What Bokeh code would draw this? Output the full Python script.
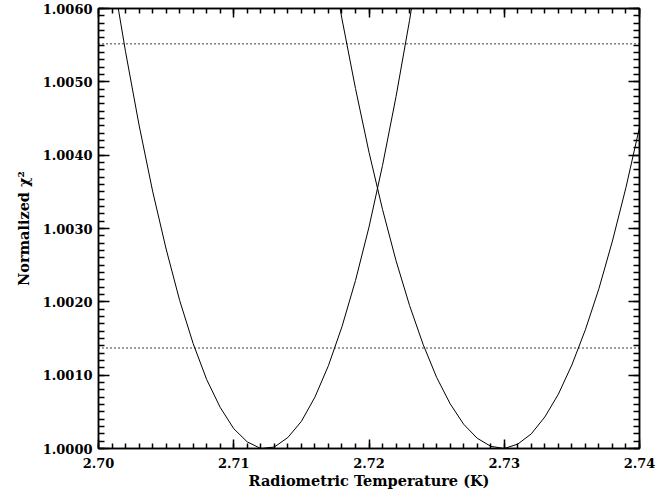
from bokeh.plotting import figure
from bokeh.models import (Range1d, LinearAxis, SingleIntervalTicker, NumeralTickFormatter,
                          CustomJSTickFormatter, Span)
from bokeh.embed import file_html
from bokeh.resources import INLINE

# Left curve (sampled every 0.001 K)
temp_left = [2.700, 2.701, 2.702, 2.703, 2.704, 2.705, 2.706, 2.707, 2.708, 2.709,
             2.710, 2.711, 2.712, 2.713, 2.714, 2.715, 2.716, 2.717, 2.718, 2.719,
             2.720, 2.721, 2.722, 2.723, 2.724]
chi_left = [1.00772, 1.00651, 1.00541, 1.00441, 1.00351, 1.00272, 1.00202, 1.00143,
            1.00094, 1.00056, 1.00027, 1.00009, 1.00000, 1.00002, 1.00015, 1.00037,
            1.00070, 1.00113, 1.00166, 1.00229, 1.00302, 1.00386, 1.00480, 1.00584,
            1.00698]

# Right curve
temp_right = [2.717, 2.718, 2.719, 2.720, 2.721, 2.722, 2.723, 2.724, 2.725, 2.726,
              2.727, 2.728, 2.729, 2.730, 2.731, 2.732, 2.733, 2.734, 2.735, 2.736,
              2.737, 2.738, 2.739, 2.740]
chi_right = [1.00690, 1.00586, 1.00491, 1.00404, 1.00326, 1.00256, 1.00195, 1.00142,
             1.00097, 1.00061, 1.00033, 1.00014, 1.00003, 1.00000, 1.00006, 1.00020,
             1.00043, 1.00074, 1.00114, 1.00162, 1.00218, 1.00283, 1.00356, 1.00438]

# Horizontal reference levels (dotted)
levels = [1.00552, 1.00137]

x_label = "Radiometric Temperature (K)"
y_label = "Normalized χ²"

FONT = "DejaVu Serif"

p = figure(width=669, height=494, output_backend="svg", toolbar_location=None,
           x_range=Range1d(2.70, 2.74), y_range=Range1d(1.0000, 1.0060),
           min_border_left=98, min_border_right=30, min_border_top=8, min_border_bottom=46,
           x_axis_type=None, y_axis_type=None)
p.grid.visible = False
p.outline_line_color = "black"
p.outline_line_width = 1.5
p.background_fill_color = "white"
p.border_fill_color = "white"

def xt():
    return SingleIntervalTicker(interval=0.01, num_minor_ticks=10)

def yt():
    return SingleIntervalTicker(interval=0.001, num_minor_ticks=10)

def style(ax, major_len, minor_len, labels=True):
    ax.axis_line_color = "black"
    ax.axis_line_width = 1.5
    ax.major_tick_line_color = "black"
    ax.minor_tick_line_color = "black"
    ax.major_tick_line_width = 1.5
    ax.minor_tick_line_width = 1.5
    ax.major_tick_in = major_len
    ax.major_tick_out = 0
    ax.minor_tick_in = minor_len
    ax.minor_tick_out = 0
    ax.major_label_text_font = FONT
    ax.major_label_text_font_style = "bold"
    ax.major_label_text_font_size = "13px"
    ax.major_label_text_color = "black"
    ax.axis_label_text_font = FONT
    ax.axis_label_text_font_style = "bold"
    ax.axis_label_text_font_size = "14.5px"
    ax.axis_label_text_color = "black"
    if not labels:
        ax.formatter = CustomJSTickFormatter(code="return ''")
        ax.major_label_standoff = 0

xb = LinearAxis(ticker=xt(), formatter=NumeralTickFormatter(format="0.00"), axis_label=x_label)
style(xb, 9, 5)
xb.major_label_standoff = 9
xb.axis_label_standoff = 1
p.add_layout(xb, "below")

xa = LinearAxis(ticker=xt())
style(xa, 9, 5, labels=False)
p.add_layout(xa, "above")

yl = LinearAxis(ticker=yt(), formatter=NumeralTickFormatter(format="0.0000"), axis_label=y_label)
style(yl, 11, 6)
yl.major_label_standoff = 6
yl.axis_label_standoff = 8
p.add_layout(yl, "left")

yr = LinearAxis(ticker=yt())
style(yr, 11, 6, labels=False)
p.add_layout(yr, "right")

p.line(temp_left, chi_left, line_color="black", line_width=1)
p.line(temp_right, chi_right, line_color="black", line_width=1)

for lv in levels:
    p.add_layout(Span(location=lv, dimension="width", line_color="black",
                      line_width=1.5, line_dash="1 3"))

open("out.html", "w").write(file_html(p, INLINE))
